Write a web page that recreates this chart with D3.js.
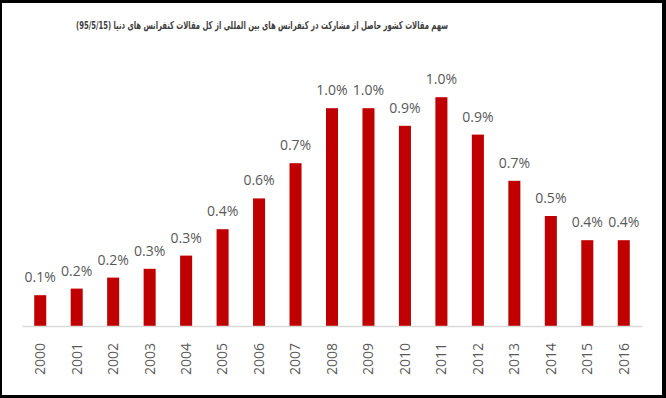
<!DOCTYPE html>
<meta charset="utf-8">
<head>
<style>
body {
  margin: 0;
  background-color: #000;
}
#frame {
  position: absolute;
  left: 2px;
  top: 3px;
  width: 660px;
  height: 392px;
  background: #fff;
}
.label {
  fill: #595959;
  font-size: 14px;
  font-family: 'Open Sans', sans-serif;
}
.axis text {
  fill: #595959;
  font-size: 14px;
  font-family: 'Open Sans', sans-serif;
}
.title {
  fill: #404040;
  font-size: 11px;
  font-weight: bold;
  font-family: 'DejaVu Sans', sans-serif;
}
</style>
<script src="https://cdn.jsdelivr.net/npm/d3@7"></script>
</head>
<body>
<div id="frame">
  <svg id="chart"></svg>
</div>

<script>

var years = ['2000','2001','2002','2003','2004','2005','2006','2007','2008',
             '2009','2010','2011','2012','2013','2014','2015','2016']
// share of world conference papers, percent
var shares = [0.14, 0.17, 0.22, 0.26, 0.32, 0.44, 0.58, 0.74, 0.99,
              0.99, 0.91, 1.04, 0.87, 0.66, 0.50, 0.39, 0.39]
var title = 'سهم مقالات کشور حاصل از مشارکت در کنفرانس های بین المللی از کل مقالات کنفرانس های دنیا (95/5/15)'

var width = 660, height = 392
// frame is offset by (2,3), chart coords are page coords minus that
var plotLeft = 20, plotRight = 640, baseline = 323

var svg = d3.select('#chart')
  .attr('width', width)
  .attr('height', height)

var data = years.map(function (y, i) { return {year: y, value: shares[i]} })

var x = d3.scaleBand()
  .domain(years)
  .range([plotLeft, plotRight])
  .paddingInner(0.67)
  .paddingOuter(0.335)

var y = d3.scaleLinear()
  .domain([0, 1])
  .range([baseline, baseline - 220])

// title, squeezed to the width it takes in the original (~372px)
svg.append('text')
  .attr('class', 'title')
  .attr('x', 74)
  .attr('y', 26)
  .attr('textLength', 372)
  .attr('lengthAdjust', 'spacingAndGlyphs')
  .text(title)

// bars
svg.selectAll('.bar')
  .data(data)
  .enter().append('rect')
  .attr('class', 'bar')
  .attr('x', function (d) { return x(d.year) })
  .attr('width', x.bandwidth())
  .attr('y', function (d) { return y(d.value) })
  .attr('height', function (d) { return baseline - y(d.value) })
  .style('fill', '#C00000')

// value labels
svg.selectAll('.label')
  .data(data)
  .enter().append('text')
  .attr('class', 'label')
  .attr('x', function (d) { return x(d.year) + x.bandwidth() / 2 })
  .attr('y', function (d) { return y(d.value) - 13 })
  .attr('text-anchor', 'middle')
  .text(function (d) { return d.value.toFixed(1) + '%' })

// x axis
var axis = svg.append('g')
  .attr('class', 'axis')
  .attr('transform', 'translate(0,' + baseline + ')')
  .call(d3.axisBottom(x).tickSize(0).tickSizeOuter(0))

axis.select('.domain')
  .attr('stroke', '#D9D9D9')
  .attr('stroke-width', 1.5)

axis.selectAll('.tick text')
  .attr('transform', 'rotate(-90)')
  .attr('x', -17)
  .attr('y', 0)
  .attr('dy', '0.35em')
  .attr('text-anchor', 'end')

</script>
</body>
</html>
